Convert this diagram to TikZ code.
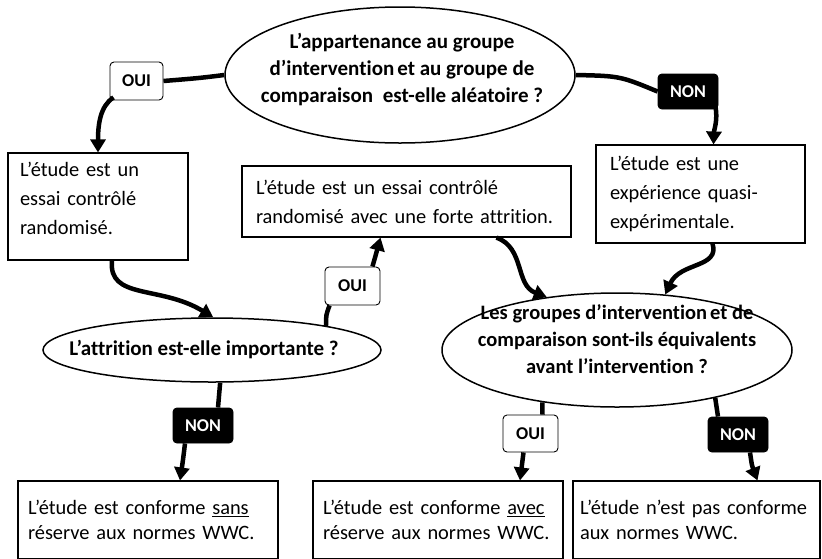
\documentclass[tikz,border=0pt]{standalone}
\usepackage{fontspec}
\setmainfont{Carlito}[Ligatures=CommonOff]
\usetikzlibrary{shapes.geometric,arrows.meta,calc}

% zero-height strut with depth #1, used to lift a text block inside its frame
\newcommand{\liftby}[1]{\rule[-#1]{0pt}{0pt}}

\begin{document}
\begin{tikzpicture}[x=1pt,y=-1pt,
  question/.style={ellipse, draw, line width=1.5pt, inner sep=0pt},
  qtext/.style={align=center, inner sep=0pt, font=\fontsize{21}{27}\selectfont\bfseries},
  result/.style={rectangle, draw, line width=1.1pt, align=left, inner ysep=0pt,
    font=\fontsize{20.4}{29}\selectfont},
  yes/.style={rectangle, rounded corners=4pt, draw, line width=0.9pt, fill=white,
    inner sep=0pt, font=\fontsize{18}{20}\selectfont\bfseries},
  no/.style={yes, fill=black, text=white},
  link/.style={line width=4.5pt},
  flow/.style={line width=4.5pt, -{Triangle[length=13pt,width=15pt]}},
]
\useasboundingbox (0,0) rectangle (822,558);
\clip (0,0) rectangle (822,558);

% questions: outline first, wording on top
\node[question, minimum width=350pt, minimum height=136pt] (q1) at (400,75) {};
\node[qtext] (q1t) at (402,70)
  {L’appartenance au groupe\\d’intervention\hspace{3pt}et au groupe de\\comparaison\hspace{5pt} est-elle aléatoire ?};
\node[question, minimum width=338pt, minimum height=64pt] (q2) at (212,350) {};
\node[qtext] (q2t) at (204,350) {L’attrition est-elle importante ?};
\node[question, minimum width=350pt, minimum height=114pt] (q3) at (617,350) {};
\node[qtext, font=\fontsize{20.5}{27}\selectfont\bfseries] (q3t) at (617,339)
  {Les groupes d’intervention\hspace{3pt}et de\\comparaison sont-ils équivalents\\avant l’intervention ?};

% intermediate results
\node[result, inner xsep=12pt, text width=156pt, minimum width=180pt, minimum height=107pt] (r1) at (98,206.5)
  {L’étude est un\\essai contrôlé\\randomisé.\liftby{17pt}};
\node[result, inner xsep=14pt, text width=301pt, minimum width=329pt, minimum height=71pt] (r2) at (406.5,201.5)
  {L’étude est un essai contrôlé\\randomisé avec une forte attrition.};
\node[result, inner xsep=14pt, text width=181pt, minimum width=209pt, minimum height=98pt] (r3) at (700.5,194)
  {L’étude est une\\expérience quasi-\\expérimentale.};

% final ratings
\node[result, font=\fontsize{20.4}{25}\selectfont, inner xsep=10pt, text width=240pt, minimum width=260pt, minimum height=78pt] (r4) at (148,520)
  {L’étude est conforme \underline{sans}\\réserve aux normes WWC.};
\node[result, font=\fontsize{20.4}{25}\selectfont, inner xsep=10pt, text width=230pt, minimum width=250pt, minimum height=78pt] (r5) at (438,520)
  {L’étude est conforme \underline{avec}\\réserve aux normes WWC.};
\node[result, font=\fontsize{20.4}{25}\selectfont, inner xsep=7pt, text width=233pt, minimum width=247pt, minimum height=78pt] (r6) at (696.5,520)
  {L’étude n’est pas conforme\\aux normes WWC.};

% answer tags
\node[yes, minimum width=53pt, minimum height=38pt] (y1) at (136.5,81) {OUI};
\node[no,  minimum width=60pt, minimum height=35pt] (n1) at (688,91.5) {NON};
\node[yes, minimum width=55pt, minimum height=38pt] (y2) at (352.5,286) {OUI};
\node[no,  minimum width=60pt, minimum height=35pt] (n2) at (203,425.5) {NON};
\node[yes, minimum width=55pt, minimum height=37pt] (y3) at (530.5,433.5) {OUI};
\node[no,  minimum width=60pt, minimum height=35pt] (n3) at (738,434.5) {NON};

% connectors
\draw[link] (q1.west) .. controls (200,78) .. (y1.east);
\draw[flow] ($(y1.south west)+(4,-3)$) .. controls (100,106) and (98,125) .. (r1.north);
\draw[link] (q1.east) .. controls (620,76) .. (n1.west);
\draw[flow] ($(n1.south east)+(-3,-3)$) .. controls (718,120) and (714,130) .. ($(r3.north)+(13,0)$);

\draw[flow] ($(r1.south)+(14,0)$) .. controls (108,300) and (160,285) .. (q2.88);
\draw[link] (q2.12) .. controls (326,315) .. ($(y2.south west)+(5,0)$);
\draw[flow] ($(y2.north east)+(-8,0)$) .. controls (375,258) .. ($(r2.south)+(-26,0)$);

\draw[flow] ($(r2.south)+(90,0)$) .. controls (525,248) and (515,285) .. (q3.143);
\draw[flow] ($(r3.south)+(12,0)$) .. controls (720,268) and (680,262) .. (q3.49);

\draw[link] (q2.284) .. controls (219,395) .. ($(n2.north)+(15,0)$);
\draw[flow] ($(n2.south)+(-18,0)$) .. controls (183,460) .. ($(r4.north)+(32,0)$);

\draw[link] (q3.215) -- ($(y3.north)+(12,0)$);
\draw[flow] ($(y3.south)+(-7,0)$) -- ($(r5.north)+(82,0)$);

\draw[link] (q3.334) -- ($(n3.north)+(-20,0)$);
\draw[flow] ($(n3.south)+(12,0)$) .. controls (752,466) .. ($(r6.north)+(61,0)$);
\end{tikzpicture}
\end{document}
